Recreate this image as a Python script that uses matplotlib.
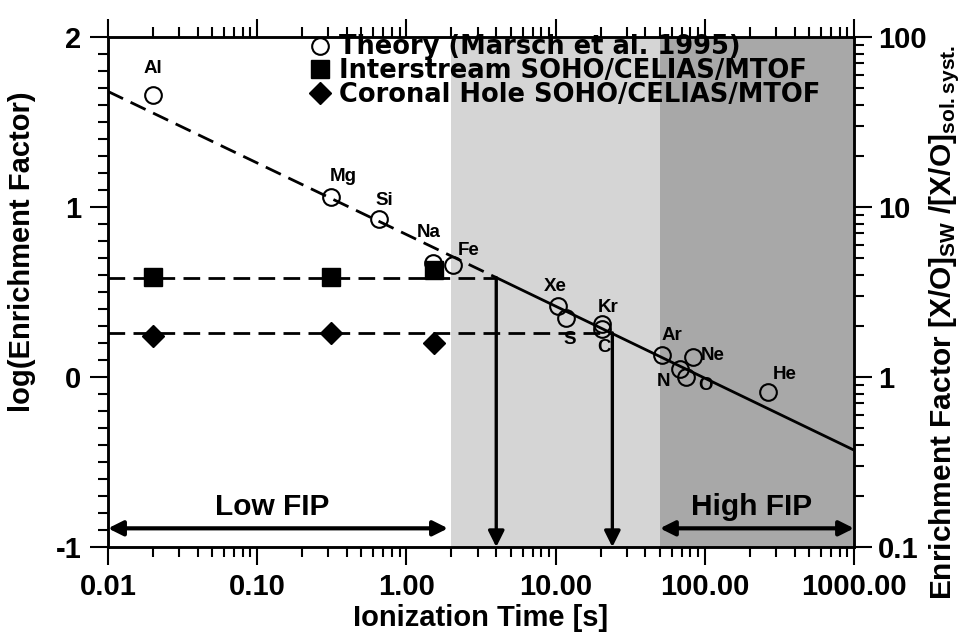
import numpy as np
import matplotlib.pyplot as plt
from matplotlib.ticker import LogLocator, MultipleLocator, NullFormatter

plt.rcParams['font.family'] = ['Liberation Sans', 'DejaVu Sans']
plt.rcParams['font.weight'] = 'bold'
plt.rcParams['axes.labelweight'] = 'bold'
plt.rcParams['mathtext.fontset'] = 'custom'
plt.rcParams['mathtext.rm'] = 'Liberation Sans:bold'
plt.rcParams['mathtext.bf'] = 'Liberation Sans:bold'
plt.rcParams['mathtext.default'] = 'bf'

# theory points (Marsch et al. 1995)
elements = ['Al', 'Mg', 'Si', 'Na', 'Fe', 'Xe', 'S', 'Kr', 'C', 'Ar', 'N', 'Ne', 'O', 'He']
theory_t = [0.02, 0.31, 0.65, 1.5, 2.05, 10.4, 11.7, 20.5, 20.5, 51.6, 68, 83, 75, 265]
theory_log = [1.66, 1.06, 0.93, 0.67, 0.66, 0.42, 0.35, 0.31, 0.28, 0.13, 0.05, 0.12, 0.0, -0.09]
# label offsets (points)
label_dx = [0, 9, 4, -3, 11, -2, 3, 4, 1, 7, -12, 14, 14, 12]
label_dy = [19, 15, 13, 22, 10, 14, -16, 12, -13, 14, -9, 1, -6, 13]

# theory fit line
fit_t_dash = [0.01, 4.0]
fit_y_dash = [1.68, 0.585]
fit_t_solid = [4.0, 1000.0]
fit_y_solid = [0.585, -0.43]

# SOHO/CELIAS/MTOF
mtof_t = [0.02, 0.31, 1.53]
inter_y = [0.59, 0.59, 0.63]
inter_err = [0.05, 0.0, 0.04]
coronal_y = [0.24, 0.26, 0.20]
coronal_err = [0.05, 0.0, 0.05]
inter_mean = 0.585
coronal_mean = 0.26
inter_cross_t = 4.0
coronal_cross_t = 24.0

# FIP regions
low_fip = (0.01, 1.9)
mid_region = (2.0, 50.0)
high_fip = (50.0, 1000.0)
fip_arrow_y = -0.89
fip_text_y = -0.81

fig = plt.figure(figsize=(9.66, 6.41), dpi=100)
ax = fig.add_axes([0.1118, 0.1466, 0.7723, 0.7956])

ax.set_xscale('log')
ax.set_xlim(0.01, 1000)
ax.set_ylim(-1, 2)

# shaded regions
ax.axvspan(*mid_region, color='#d5d5d5', lw=0, zorder=0)
ax.axvspan(*high_fip, color='#a8a8a8', lw=0, zorder=0)

# theory line
ax.plot(fit_t_dash, fit_y_dash, color='black', lw=2, ls=(0, (6, 3)), zorder=2)
ax.plot(fit_t_solid, fit_y_solid, color='black', lw=2, zorder=2)

# horizontal dashed lines for the measured levels
ax.plot([0.01, inter_cross_t], [inter_mean, inter_mean], color='black', lw=2, ls=(0, (6, 3)), zorder=2)
ax.plot([0.01, coronal_cross_t], [coronal_mean, coronal_mean], color='black', lw=2, ls=(0, (6, 3)), zorder=2)

# vertical arrows
for t0, y0 in [(inter_cross_t, inter_mean), (coronal_cross_t, coronal_mean)]:
    ax.annotate('', xy=(t0, -1), xytext=(t0, y0),
                arrowprops=dict(arrowstyle='-|>', color='black', lw=2.4,
                                mutation_scale=24, shrinkA=0, shrinkB=0),
                zorder=3)

# FIP double arrows
for span in [low_fip, high_fip]:
    ax.annotate('', xy=(span[1], fip_arrow_y), xytext=(span[0], fip_arrow_y),
                arrowprops=dict(arrowstyle='<|-|>', color='black', lw=3,
                                mutation_scale=22, shrinkA=0, shrinkB=0),
                zorder=3)
ax.text(np.sqrt(0.01 * 1.6), fip_text_y, 'Low FIP', fontsize=21.5, ha='center', va='baseline')
ax.text(207, fip_text_y, 'High FIP', fontsize=21.5, ha='center', va='baseline')

# theory circles
ax.plot(theory_t, theory_log, 'o', ms=12, mfc='none', mec='black', mew=1.5,
        ls='none', zorder=4, label='Theory (Marsch et al. 1995)')
for el, t, y, dx, dy in zip(elements, theory_t, theory_log, label_dx, label_dy):
    ax.annotate(el, (t, y), xytext=(dx, dy), textcoords='offset points',
                fontsize=13.5, ha='center', va='center', zorder=5)

# measurements
ax.errorbar(mtof_t, inter_y, yerr=inter_err, fmt='none', ecolor='black', elinewidth=2, zorder=5)
ax.plot(mtof_t, inter_y, 's', ms=13, color='black', ls='none', zorder=5,
        label='Interstream SOHO/CELIAS/MTOF')
ax.errorbar(mtof_t, coronal_y, yerr=coronal_err, fmt='none', ecolor='black', elinewidth=2, zorder=5)
ax.plot(mtof_t, coronal_y, 'D', ms=11, color='black', ls='none', zorder=5,
        label='Coronal Hole SOHO/CELIAS/MTOF')

# axes styling
ax.set_xticks([0.01, 0.1, 1, 10, 100, 1000])
ax.set_xticklabels(['0.01', '0.10', '1.00', '10.00', '100.00', '1000.00'])
ax.xaxis.set_minor_locator(LogLocator(base=10, subs=np.arange(2, 10)))
ax.xaxis.set_minor_formatter(NullFormatter())
ax.set_yticks([-1, 0, 1, 2])
ax.set_yticklabels(['-1', '0', '1', '2'])
ax.yaxis.set_minor_locator(MultipleLocator(0.1))
ax.tick_params(axis='both', which='major', labelsize=21, length=13, width=1.5, direction='out', pad=6)
ax.tick_params(axis='both', which='minor', length=7, width=1.5, direction='out')
ax.tick_params(axis='x', which='both', top=True)
for sp in ax.spines.values():
    sp.set_linewidth(1.8)

ax.set_xlabel('Ionization Time [s]', fontsize=21, labelpad=2)
ax.set_ylabel('log(Enrichment Factor)', fontsize=21)
ax.yaxis.set_label_coords(-0.097, 0.58)

ax2 = ax.twinx()
ax2.set_yscale('log')
ax2.set_ylim(0.1, 100)
ax2.set_yticks([0.1, 1, 10, 100])
ax2.set_yticklabels(['0.1', '1', '10', '100'])
ax2.yaxis.set_minor_locator(LogLocator(base=10, subs=np.arange(2, 10)))
ax2.yaxis.set_minor_formatter(NullFormatter())
ax2.tick_params(axis='y', which='major', labelsize=21, length=13, width=1.5, direction='out', pad=4)
ax2.tick_params(axis='y', which='minor', length=7, width=1.5, direction='out')
for sp in ax2.spines.values():
    sp.set_linewidth(1.8)
ax2.set_ylabel(r'Enrichment Factor [X/O]$_{SW}$ /[X/O]$_{sol.syst.}$', fontsize=21.5)
ax2.yaxis.set_label_coords(1.099, 0.44)

ax.legend(loc='upper left', bbox_to_anchor=(0.27, 1.005), frameon=False,
          prop={'family': 'DejaVu Sans', 'weight': 'bold', 'size': 18.5},
          handlelength=0.8, handletextpad=0.35, labelspacing=-0.08,
          borderpad=0, borderaxespad=0)

fig.savefig('out.png', dpi=100)
